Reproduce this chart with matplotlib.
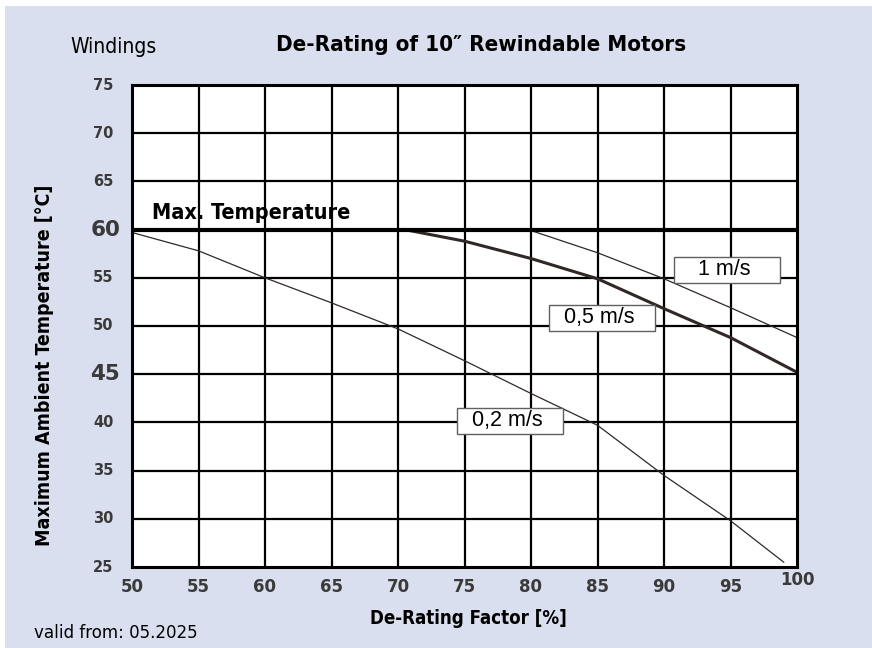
import numpy as np
import matplotlib.pyplot as plt
from matplotlib.patches import Rectangle

# data
x_02 = [50, 55, 60, 65, 70, 75, 80, 85, 90, 95, 99]
y_02 = [59.7, 57.8, 55.0, 52.4, 49.7, 46.4, 43.0, 39.7, 34.5, 29.8, 25.5]
x_05 = [70.5, 75, 80, 85, 90, 95, 100]
y_05 = [60.0, 58.8, 57.0, 54.9, 51.8, 48.8, 45.2]
x_1 = [80, 85, 90, 95, 100]
y_1 = [59.9, 57.6, 54.9, 51.9, 48.8]
labels = ["0,2 m/s", "0,5 m/s", "1 m/s"]
label_pos = [(78.4, 40.15), (85.35, 50.85), (94.75, 55.85)]
x_ticks = [50, 55, 60, 65, 70, 75, 80, 85, 90, 95, 100]
y_ticks = [25, 30, 35, 40, 45, 50, 55, 60, 65, 70, 75]
max_temp = 60

bg = '#d9dfee'
tick_col = '#3a3a3a'
line_col = '#302826'
cond = dict(family='DejaVu Sans', stretch='condensed')

fig = plt.figure(figsize=(8.72, 6.48), dpi=100, facecolor='white')
fig.patches.append(Rectangle((5/872, 0), 1, 1 - 6/648, transform=fig.transFigure,
                             facecolor=bg, edgecolor='none', zorder=-10))

ax = fig.add_axes([132/872, 1 - 567/648, 665/872, 482/648])
ax.set_xlim(50, 100)
ax.set_ylim(25, 75)
ax.set_facecolor('white')

for v in x_ticks[1:-1]:
    ax.axvline(v, color='black', lw=1.6, zorder=1)
for v in y_ticks[1:-1]:
    ax.axhline(v, color='black', lw=1.6, zorder=1)
ax.axhline(max_temp, color='black', lw=3.0, zorder=3)

ax.plot(x_02, y_02, color=line_col, lw=0.9, zorder=2)
ax.plot(x_05, y_05, color=line_col, lw=2.2, zorder=2)
ax.plot(x_1, y_1, color=line_col, lw=0.9, zorder=2)

# label boxes (wider than the text, as in the original)
bw, bh = 7.95, 2.7
for txt, (lx, ly) in zip(labels, label_pos):
    ax.add_patch(Rectangle((lx - bw / 2, ly - bh / 2), bw, bh, facecolor='white',
                           edgecolor='#606060', lw=1.0, zorder=5))
    ax.text(lx - 0.2, ly, txt, ha='center', va='center', fontsize=15.5,
            family='Liberation Sans', zorder=6)

ax.text(51.5, 61.7, "Max. Temperature", fontsize=15.5, fontweight='bold',
        va='center', ha='left', zorder=4, **cond)

for s in ax.spines.values():
    s.set_linewidth(2.2)
ax.tick_params(length=0)
ax.set_xticks(x_ticks)
ax.set_yticks(y_ticks)
ax.set_xticklabels([])
ax.set_yticklabels([])

ytr = ax.get_yaxis_transform()
for v in y_ticks:
    big = v in (60, 45)
    ax.text(-0.018 if big else -0.028, v, str(v), ha='right', va='center',
            fontsize=15.5 if big else 10.5, fontweight='bold',
            family='DejaVu Sans', color=tick_col,
            transform=ytr, clip_on=False)
for v in x_ticks:
    dy = 0.7 if v == 100 else 0
    ax.text(v, 22.9 + dy, str(v), ha='center', va='center', fontsize=12,
            fontweight='bold', family='DejaVu Sans', color=tick_col,
            clip_on=False)

fig.text(481/872, 1 - 45/648, "De-Rating of 10\u2033 Rewindable Motors",
         ha='center', va='center', fontsize=16, fontweight='bold', **cond)
fig.text(70/872, 1 - 47/648, "Windings", ha='left', va='center',
         fontsize=15, **cond)
fig.text(45/872, 1 - 365/648, "Maximum Ambient Temperature [\u00b0C]",
         rotation=90, ha='center', va='center', fontsize=14,
         fontweight='bold', **cond)
fig.text(468/872, 1 - 619/648, "De-Rating Factor [%]", ha='center',
         va='center', fontsize=13.4, fontweight='bold', **cond)
fig.text(34/872, 1 - 633/648, "valid from: 05.2025", ha='left',
         va='center', fontsize=13.3, **cond)

fig.savefig('out.png', dpi=100, facecolor=fig.get_facecolor())
